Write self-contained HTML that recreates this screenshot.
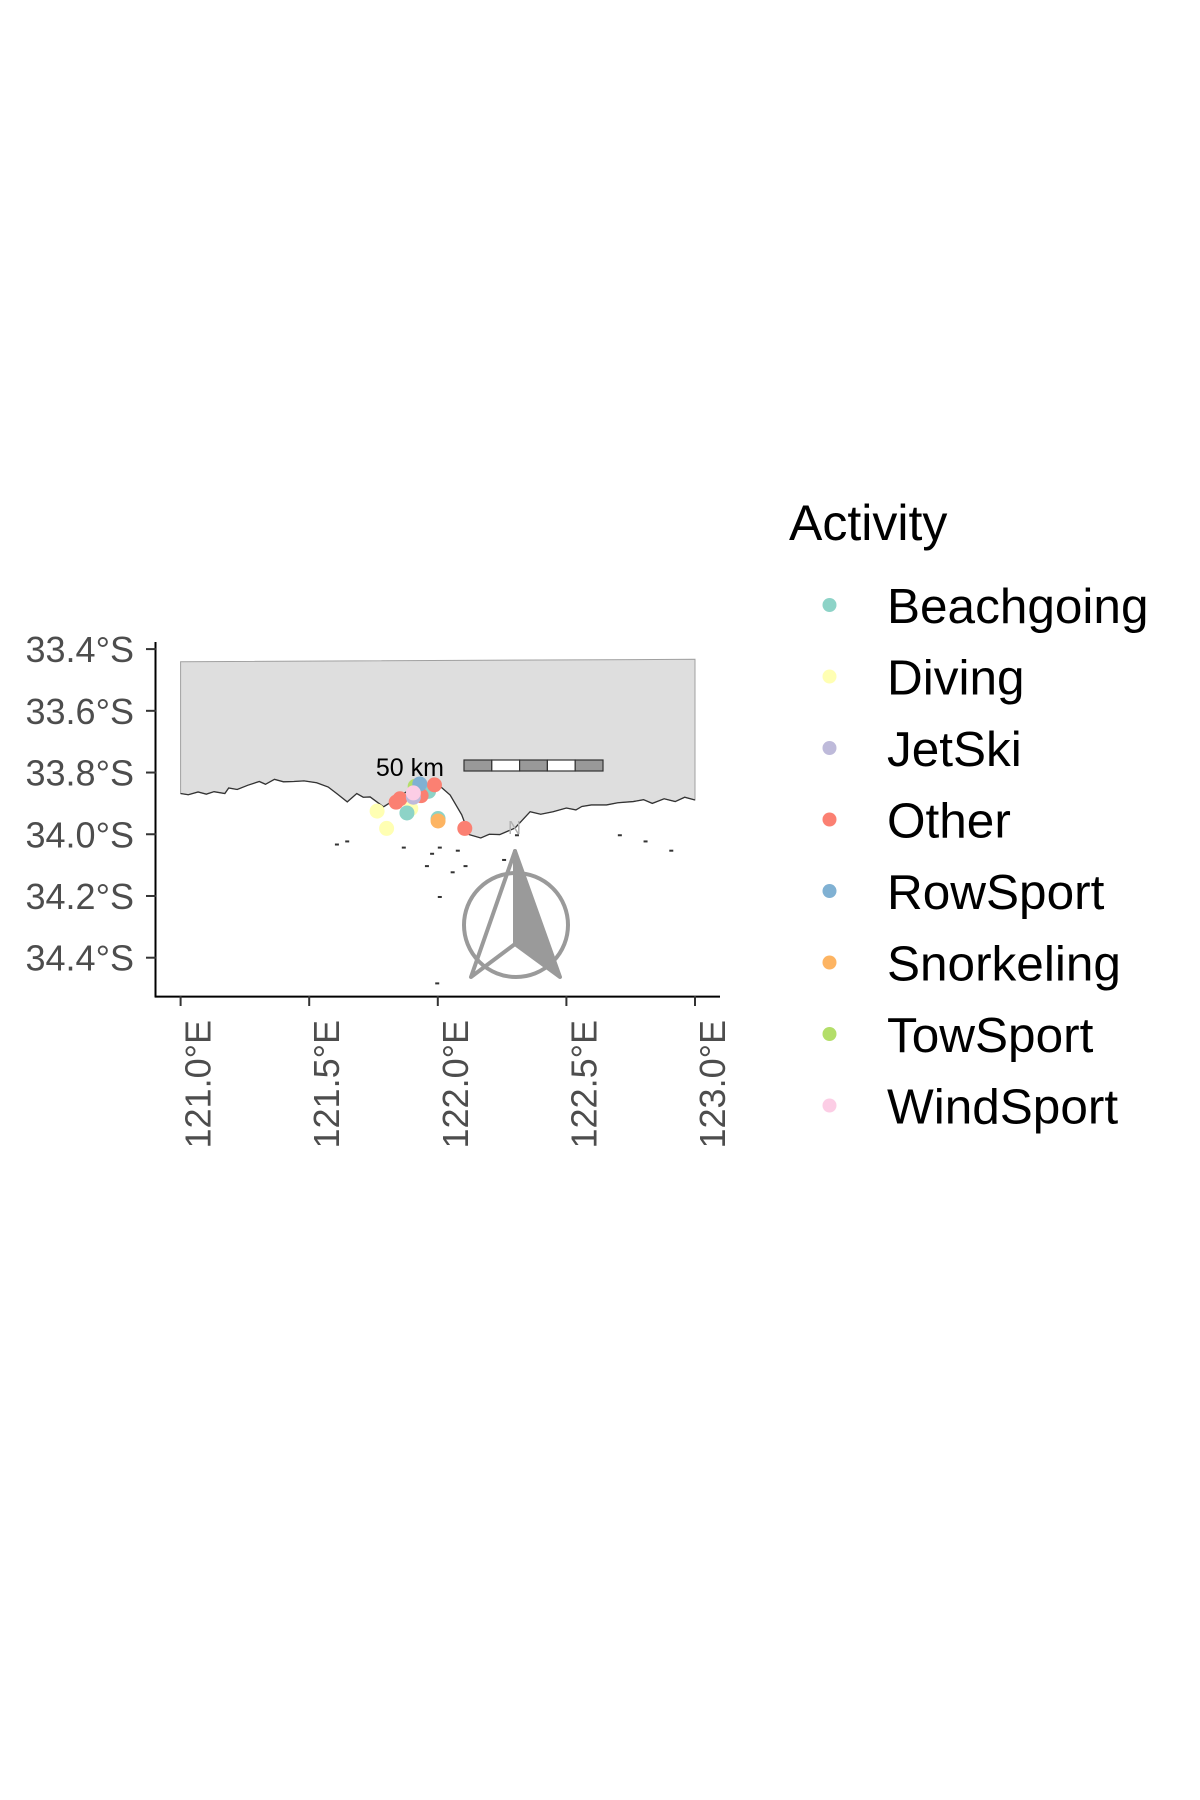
<!DOCTYPE html>
<html><head><meta charset="utf-8"><style>
body{margin:0;background:#fff}
svg{display:block;font-family:"Liberation Sans",sans-serif}
</style></head><body>
<svg id="chart" width="1200" height="1800" viewBox="0 0 1200 1800">
<g id="panel"></g>
<g id="axes"></g>
<g id="legend"></g>
</svg>
<script>
const categories=["Beachgoing","Diving","JetSki","Other","RowSport","Snorkeling","TowSport","WindSport"];
const colors=["#8DD3C7","#FFFFB3","#BEBADA","#FB8072","#80B1D3","#FDB462","#B3DE69","#FCCDE5"];
const lonTicks=[121.0,121.5,122.0,122.5,123.0];
const latTicks=[33.4,33.6,33.8,34.0,34.2,34.4];
const pointLon=[121.764,121.801,121.895,121.880,122.001,121.964,122.001,122.105,121.838,121.853,121.987,121.935,121.912,121.930,121.905,121.905];
const pointLat=[33.925,33.981,33.917,33.931,33.949,33.861,33.957,33.981,33.896,33.885,33.840,33.875,33.845,33.837,33.880,33.866];
const pointCat=["Diving","Diving","Diving","Beachgoing","Beachgoing","Beachgoing","Snorkeling","Other","Other","Other","Other","Other","TowSport","RowSport","JetSki","WindSport"];
const coastLon=[121.0,121.03,121.068,121.10,121.13,121.172,121.187,121.22,121.262,121.306,121.33,121.365,121.40,121.440,121.48,121.529,121.574,121.61,121.648,121.685,121.71,121.737,121.789,121.841,121.915,122.004,122.048,122.093,122.122,122.167,122.20,122.241,122.300,122.359,122.40,122.448,122.50,122.537,122.56,122.597,122.656,122.70,122.760,122.80,122.834,122.88,122.923,122.96,123.0];
const coastLat=[33.868,33.872,33.863,33.870,33.862,33.868,33.850,33.855,33.841,33.829,33.838,33.822,33.830,33.829,33.827,33.833,33.847,33.870,33.895,33.868,33.880,33.879,33.911,33.884,33.841,33.841,33.873,33.937,34.001,34.012,34.000,34.001,33.980,33.927,33.935,33.927,33.915,33.921,33.910,33.905,33.905,33.898,33.894,33.888,33.900,33.885,33.894,33.880,33.889];

const NS="http://www.w3.org/2000/svg";
function mk(tag,attrs,parent){const e=document.createElementNS(NS,tag);for(const k in attrs)e.setAttribute(k,attrs[k]);parent.appendChild(e);return e;}
const X=lon=>180.6+(lon-121)*257.2;
const Y=lat=>649.1+(lat-33.4)*308.6;
const panel=document.getElementById('panel'),axes=document.getElementById('axes'),legend=document.getElementById('legend');

let d="M"+X(121)+","+Y(33.441)+" L"+X(123)+","+Y(33.433);
for(let i=coastLon.length-1;i>=0;i--)d+=" L"+X(coastLon[i])+","+Y(coastLat[i]);
d+=" Z";
const land=mk('path',{d:d,fill:"#dedede",stroke:"#a0a0a0","stroke-width":1},panel);


let cd="M"+coastLon.map((l,i)=>X(l)+","+Y(coastLat[i])).join(" L");
const coast=mk('path',{d:cd,fill:"none",stroke:"#333","stroke-width":1.3},panel);


const isl=[[121.6,34.03],[121.64,34.02],[121.86,34.04],[121.97,34.06],[122.0,34.04],[122.07,34.05],[121.95,34.1],[122.05,34.12],[122.1,34.1],[122.0,34.2],[121.99,34.48],[122.3,34.0],[122.7,34.0],[122.8,34.02],[122.9,34.05],[122.25,34.08]];
isl.forEach(p=>{const r=mk('rect',{x:X(p[0]),y:Y(p[1]),width:4,height:2,fill:"#333"},panel);});

const sbText=mk('text',{x:444,y:776,"font-size":25,"text-anchor":"end",fill:"#000"},panel);
sbText.textContent="50 km";


for(let i=0;i<5;i++){const r=mk('rect',{x:464+i*27.8,y:760,width:27.8,height:11,fill:i%2?"#fff":"#999",stroke:"#333","stroke-width":1.2},panel);}

pointLon.forEach((lon,i)=>{
 const c=mk('circle',{cx:X(lon),cy:Y(pointLat[i]),r:7.5,fill:colors[categories.indexOf(pointCat[i])]},panel);
 
 
});

const na=mk('g',{},panel);


mk('circle',{cx:516,cy:925,r:52,fill:"none",stroke:"#9a9a9a","stroke-width":4},na);
mk('path',{d:"M515,851 L560,977 L515,944 Z",fill:"#9a9a9a",stroke:"#9a9a9a","stroke-width":4,"stroke-linejoin":"round"},na);
mk('path',{d:"M515,851 L471,977 L515,944 Z",fill:"none",stroke:"#9a9a9a","stroke-width":4,"stroke-linejoin":"round"},na);
const nt=mk('text',{x:508,y:834,"font-size":18,fill:"#b0b0b0"},na);nt.textContent="N";

const yl=mk('line',{x1:155.5,y1:642,x2:155.5,y2:997.5,stroke:"#000","stroke-width":2},axes);

const xl=mk('line',{x1:155,y1:996.6,x2:720,y2:996.6,stroke:"#000","stroke-width":2},axes);

latTicks.forEach(v=>{
 const y=Y(v);
 mk('line',{x1:146,y1:y,x2:156,y2:y,stroke:"#333","stroke-width":2},axes);
 const t=mk('text',{x:134,y:y+13,"font-size":36,"text-anchor":"end",fill:"#4d4d4d"},axes);
 t.textContent=v.toFixed(1)+"°S";
 
 
});
lonTicks.forEach(v=>{
 const x=X(v);
 mk('line',{x1:x,y1:996,x2:x,y2:1006,stroke:"#333","stroke-width":2},axes);
 const t=mk('text',{x:0,y:0,"font-size":36,"text-anchor":"end",fill:"#4d4d4d",transform:"translate("+(x+30)+",1020) rotate(-90)"},axes);
 t.textContent=v.toFixed(1)+"°E";
 
 
});

const lt=mk('text',{x:789,y:540,"font-size":50,fill:"#000"},legend);
lt.textContent="Activity";


categories.forEach((c,i)=>{
 const y=605+i*71.5;
 const g=mk('g',{},legend);
 
 
 mk('circle',{cx:829.5,cy:y,r:7,fill:colors[i]},g);
 const t=mk('text',{x:887,y:y+18,"font-size":49.5,fill:"#000"},g);
 t.textContent=c;
});
</script>
</body></html>
